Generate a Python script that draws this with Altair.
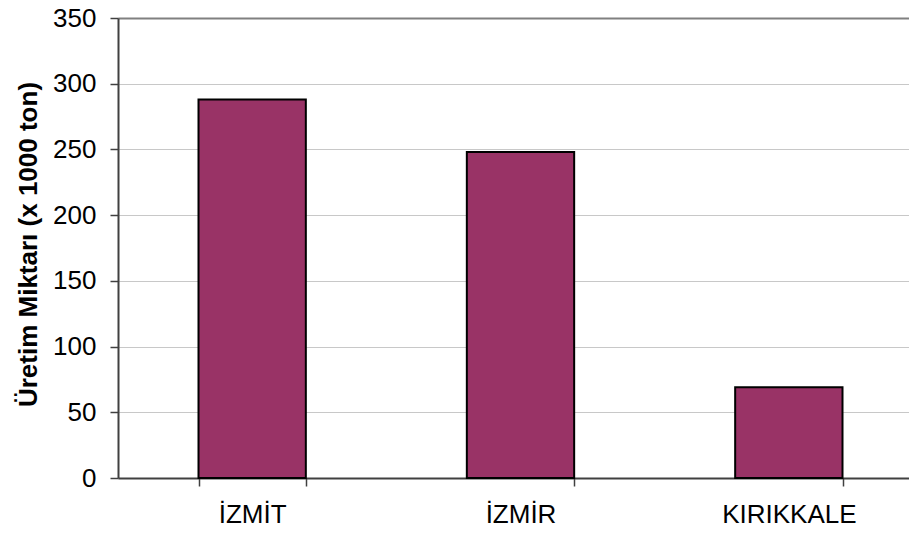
import altair as alt
import pandas as pd

cities = ["İZMİT", "İZMİR", "KIRIKKALE"]
values = [288, 248, 69]
y_ticks = [0, 50, 100, 150, 200, 250, 300, 350]

df = pd.DataFrame({"city": cities, "value": values})

FONT = "Liberation Sans"

chart = alt.Chart(df).mark_bar(
    color="#993366", stroke="#000000", strokeWidth=2
).encode(
    x=alt.X(
        "city:N",
        sort=cities,
        scale=alt.Scale(range=[0, 805], paddingInner=0.6, paddingOuter=0.3),
        axis=alt.Axis(
            title=None,
            labelAngle=0,
            labelFont=FONT,
            labelFontSize=26,
            labelColor="#000000",
            labelPadding=15,
            tickBand="extent",
            tickSize=8,
            tickColor="#404040",
            tickWidth=1.5,
            domainColor="#404040",
            domainWidth=2,
            grid=False,
        ),
    ),
    y=alt.Y(
        "value:Q",
        scale=alt.Scale(domain=[0, 350], nice=False),
        axis=alt.Axis(
            title="Üretim Miktarı (x 1000 ton)",
            titleFont=FONT,
            titleFontSize=26,
            titleFontWeight="bold",
            titleColor="#000000",
            titleX=-90,
            titleY=226,
            titleBaseline="middle",
            values=y_ticks,
            labelFont=FONT,
            labelFontSize=26,
            labelColor="#000000",
            labelPadding=14,
            tickSize=8,
            tickColor="#404040",
            tickWidth=1.5,
            domainColor="#404040",
            domainWidth=2,
            grid=True,
            gridColor={"condition": {"test": "datum.value === 350", "value": "#808080"}, "value": "#c8c8c8"},
            gridWidth={"condition": {"test": "datum.value === 350", "value": 2}, "value": 1},
        ),
    ),
).properties(
    width=791,
    height=460,
    autosize=alt.AutoSizeParams(type="none"),
    padding={"left": 110, "top": 10, "right": 0, "bottom": 49},
).configure_view(stroke=None).configure(background="#ffffff")

chart.save("out.html", embed_options={"renderer": "svg", "actions": False})
